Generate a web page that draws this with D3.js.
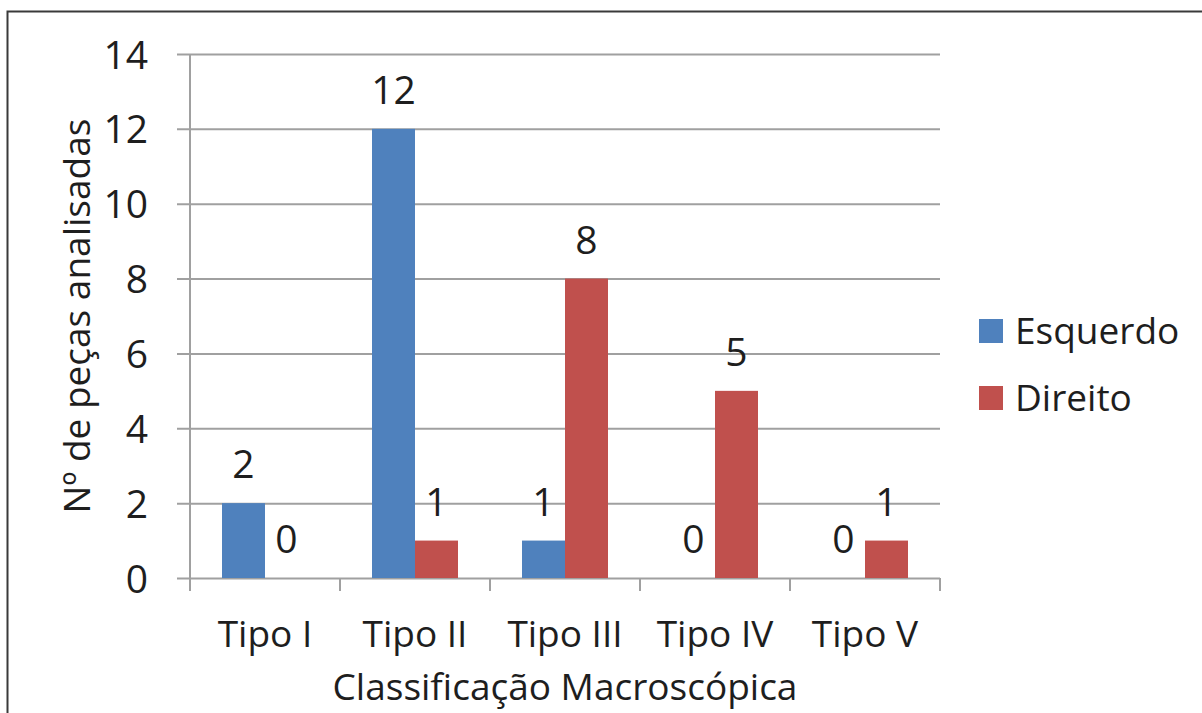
<!DOCTYPE html>
<html>
<head>
<meta charset="utf-8">
<script src="https://cdnjs.cloudflare.com/ajax/libs/d3/7.8.5/d3.min.js"></script>
<style>
  html, body { margin: 0; padding: 0; background: #ffffff; }
  svg { display: block; }
  text { font-family: "Open Sans", "Noto Sans", sans-serif; fill: #1e1e1e; }
</style>
</head>
<body>
<svg id="chart" width="1202" height="713"></svg>
<script>
// Peças analisadas por tipo de classificação macroscópica
const categories = ["Tipo I", "Tipo II", "Tipo III", "Tipo IV", "Tipo V"];
const seriesNames = ["Esquerdo", "Direito"];
const esquerdo = [2, 12, 1, 0, 0];
const direito = [0, 1, 8, 5, 1];
const yTicks = [0, 2, 4, 6, 8, 10, 12, 14];
const colors = ["#4F81BD", "#C0504D"];

const seriesValues = [esquerdo, direito];
const rows = categories.map((c, i) => ({
  cat: c,
  vals: seriesNames.map((s, j) => ({ key: s, value: seriesValues[j][i] }))
}));

const svg = d3.select("#chart");
const FS = 37;      // texto
const FS_NUM = 39;  // números

// Moldura do gráfico (continua para fora da área visível)
svg.append("rect")
  .attr("x", 7.5).attr("y", 11.5)
  .attr("width", 1400).attr("height", 900)
  .attr("fill", "none")
  .attr("stroke", "#3a3a3a")
  .attr("stroke-width", 2);

const plot = { left: 190, right: 940, top: 54, bottom: 578 };

const x0 = d3.scaleBand()
  .domain(categories)
  .range([plot.left, plot.right])
  .paddingInner(64 / 150)
  .paddingOuter(32 / 150);

const x1 = d3.scaleBand()
  .domain(seriesNames)
  .range([0, x0.bandwidth()]);

const y = d3.scaleLinear()
  .domain([0, 14])
  .range([plot.bottom, plot.top]);

const gridColor = "#a0a0a0";

// Linhas de grade horizontais com marcas à esquerda
const yAxis = d3.axisLeft(y)
  .tickValues(yTicks)
  .tickSize(-(plot.right - plot.left))
  .tickSizeOuter(0)
  .tickPadding(0)
  .tickFormat(d3.format("d"));

const gy = svg.append("g")
  .attr("transform", `translate(${plot.left},0)`)
  .call(yAxis);
gy.select(".domain").remove();
gy.selectAll(".tick line")
  .attr("x1", -13)
  .attr("stroke", gridColor)
  .attr("stroke-width", 2);
gy.selectAll(".tick text")
  .attr("x", -42)
  .attr("dy", "0.36em")
  .attr("font-size", FS_NUM)
  .attr("fill", "#1e1e1e");

// Eixo vertical
svg.append("line")
  .attr("x1", plot.left).attr("x2", plot.left)
  .attr("y1", plot.top).attr("y2", plot.bottom + 13)
  .attr("stroke", gridColor).attr("stroke-width", 2);

// Eixo horizontal com marcas entre categorias
const bounds = categories.map(c => x0(c) - x0.step() * x0.paddingOuter());
bounds.push(plot.right);
svg.append("g").selectAll("line")
  .data(bounds)
  .join("line")
  .attr("x1", d => d).attr("x2", d => d)
  .attr("y1", plot.bottom).attr("y2", plot.bottom + 13)
  .attr("stroke", gridColor).attr("stroke-width", 2);

// Barras
const groups = svg.append("g").selectAll("g")
  .data(rows)
  .join("g")
  .attr("transform", d => `translate(${x0(d.cat)},0)`);

groups.selectAll("rect")
  .data(d => d.vals)
  .join("rect")
  .attr("x", d => x1(d.key))
  .attr("y", d => y(d.value))
  .attr("width", x1.bandwidth())
  .attr("height", d => y(0) - y(d.value))
  .attr("fill", (d, i) => colors[i]);

// Rótulos de valores
groups.selectAll("text.val")
  .data(d => d.vals)
  .join("text")
  .attr("class", "val")
  .attr("x", d => x1(d.key) + x1.bandwidth() / 2)
  .attr("y", d => y(d.value) - 25)
  .attr("text-anchor", "middle")
  .attr("font-size", FS_NUM)
  .text(d => d.value);

// Rótulos das categorias
svg.append("g").selectAll("text")
  .data(categories)
  .join("text")
  .attr("x", d => x0(d) + x0.bandwidth() / 2)
  .attr("y", 647)
  .attr("text-anchor", "middle")
  .attr("font-size", FS)
  .text(d => d);

// Títulos dos eixos
svg.append("text")
  .attr("x", (plot.left + plot.right) / 2)
  .attr("y", 700)
  .attr("text-anchor", "middle")
  .attr("font-size", FS)
  .text("Classificação Macroscópica");

svg.append("text")
  .attr("transform", `translate(90,${(plot.top + plot.bottom) / 2}) rotate(-90)`)
  .attr("text-anchor", "middle")
  .attr("font-size", FS)
  .text("Nº de peças analisadas");

// Legenda
const legend = svg.append("g").attr("transform", "translate(979,319)");
const li = legend.selectAll("g")
  .data(seriesNames)
  .join("g")
  .attr("transform", (d, i) => `translate(0,${i * 67})`);
li.append("rect")
  .attr("width", 24).attr("height", 24)
  .attr("fill", (d, i) => colors[i]);
li.append("text")
  .attr("x", 36)
  .attr("y", 12)
  .attr("dy", "0.36em")
  .attr("font-size", FS)
  .text(d => d);
</script>
</body>
</html>
